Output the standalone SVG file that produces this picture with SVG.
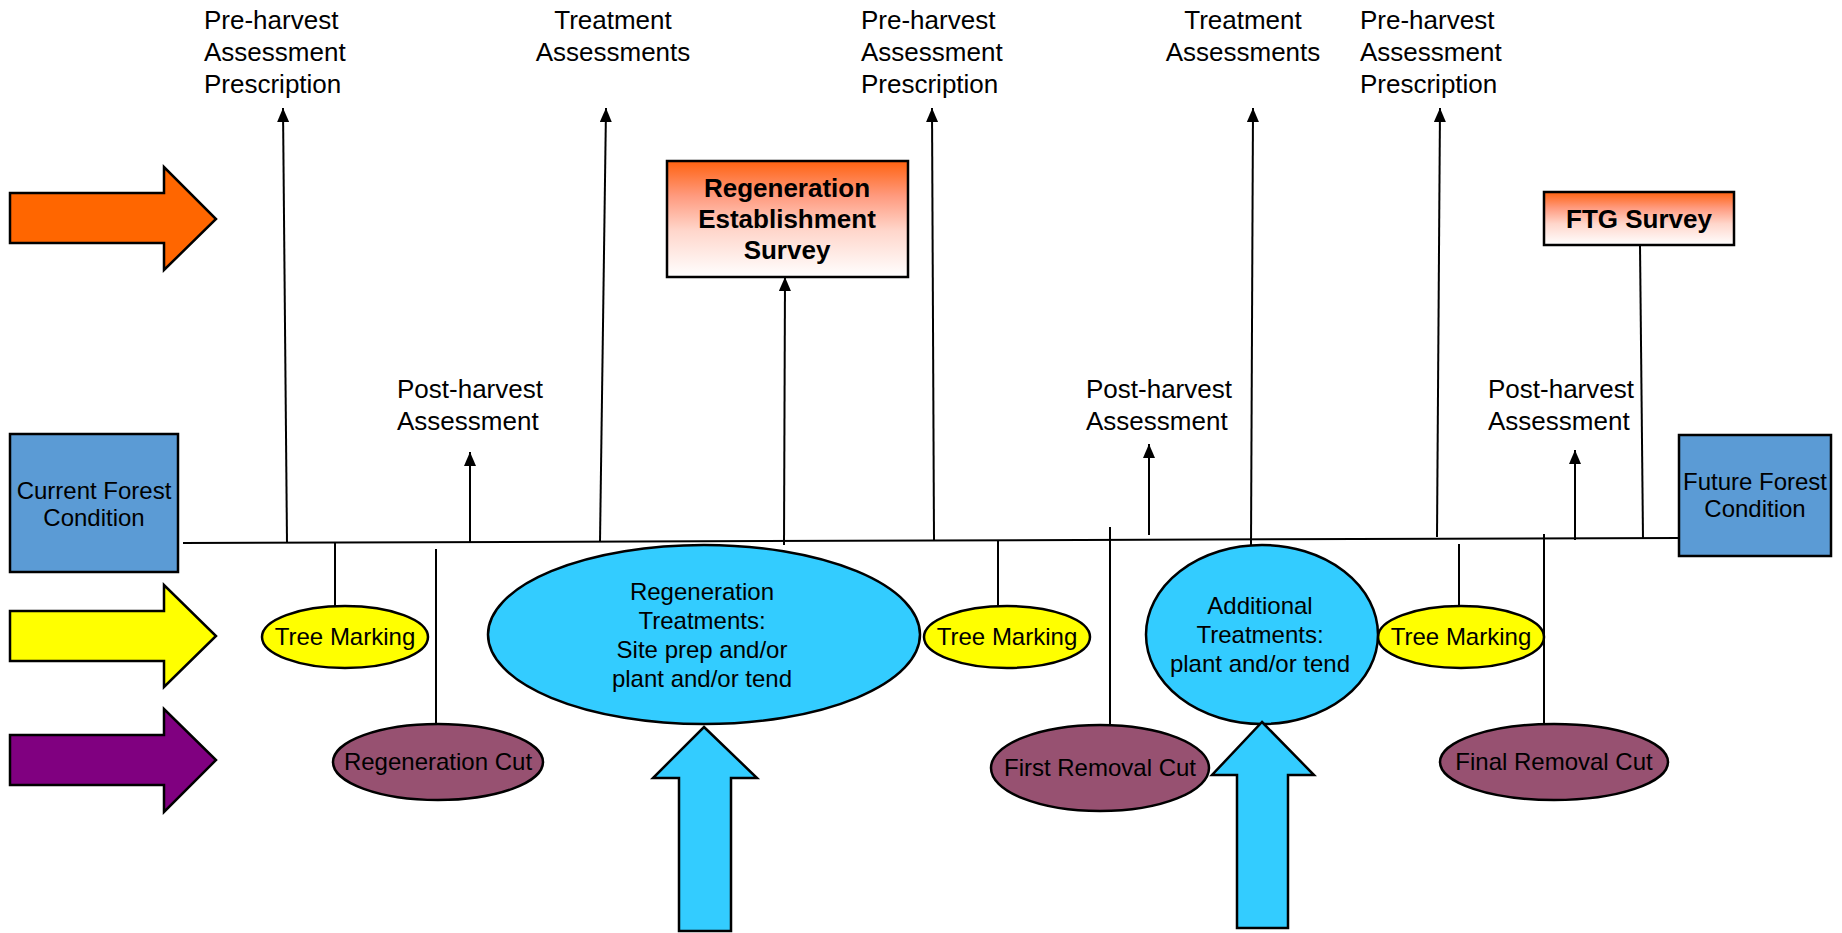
<svg xmlns="http://www.w3.org/2000/svg" width="1842" height="933" viewBox="0 0 1842 933">
<style>
text{font-family:"Liberation Sans",Arial,sans-serif;fill:#000}
.lbl{font-size:26px}
.el{font-size:24px;text-anchor:middle}
.bold{font-size:26px;font-weight:bold;text-anchor:middle}
.ln{stroke:#000;stroke-width:2;fill:none}
.shape{stroke:#000;stroke-width:2.5}
.blue{fill:#5B9BD5}
.sky{fill:#33CCFF}
.yel{fill:#FFFF00}
.mar{fill:#975171}
</style>
<defs>
<marker id="ah" markerUnits="userSpaceOnUse" markerWidth="14" markerHeight="16" refX="14" refY="6" orient="auto">
<path d="M0,0 L14,6 L0,12 Z" fill="#000"/>
</marker>
<linearGradient id="grad" x1="0" y1="0" x2="0" y2="1">
<stop offset="0" stop-color="#FF6210"/>
<stop offset="0.3" stop-color="#FF9A7E"/>
<stop offset="0.6" stop-color="#FFD6CB"/>
<stop offset="1" stop-color="#FFFFFF"/>
</linearGradient>
</defs>
<rect width="1842" height="933" fill="#fff"/>

<!-- legend arrows -->
<g id="legend-orange"><path class="shape" fill="#FF6600" d="M10,193 H164 V167 L216,219 L164,270 V243 H10 Z"/></g>
<g id="legend-yellow"><path class="shape" fill="#FFFF00" d="M10,611 H164 V585 L216,636 L164,687 V661 H10 Z"/></g>
<g id="legend-purple"><path class="shape" fill="#800080" d="M10,735 H164 V709 L216,760 L164,812 V785 H10 Z"/></g>

<!-- connectors -->
<g id="connectors">
<line class="ln" x1="183" y1="543" x2="1680" y2="538"/>
<line class="ln" x1="287" y1="543" x2="283" y2="108" marker-end="url(#ah)"/>
<line class="ln" x1="600" y1="542" x2="606" y2="108" marker-end="url(#ah)"/>
<line class="ln" x1="934" y1="541" x2="932" y2="108" marker-end="url(#ah)"/>
<line class="ln" x1="1251" y1="545" x2="1253" y2="108" marker-end="url(#ah)"/>
<line class="ln" x1="1437" y1="537" x2="1440" y2="108" marker-end="url(#ah)"/>
<line class="ln" x1="470" y1="542" x2="470" y2="452" marker-end="url(#ah)"/>
<line class="ln" x1="1149" y1="535" x2="1149" y2="444" marker-end="url(#ah)"/>
<line class="ln" x1="1575" y1="540" x2="1575" y2="450" marker-end="url(#ah)"/>
<line class="ln" x1="784" y1="545" x2="785" y2="277" marker-end="url(#ah)"/>
<line class="ln" x1="1640" y1="245" x2="1643" y2="539"/>
<line class="ln" x1="335" y1="543" x2="335" y2="606"/>
<line class="ln" x1="998" y1="541" x2="998" y2="606"/>
<line class="ln" x1="1459" y1="544" x2="1459" y2="606"/>
<line class="ln" x1="436" y1="549" x2="436" y2="724"/>
<line class="ln" x1="1110" y1="527" x2="1110" y2="725"/>
<line class="ln" x1="1544" y1="534" x2="1544" y2="724"/>
</g>

<!-- top labels -->
<g id="label-preharvest-1"><text class="lbl" x="204" y="29">Pre-harvest</text><text class="lbl" x="204" y="61">Assessment</text><text class="lbl" x="204" y="93">Prescription</text></g>
<g id="label-treatment-1"><text class="lbl" x="613" y="29" text-anchor="middle">Treatment</text><text class="lbl" x="613" y="61" text-anchor="middle">Assessments</text></g>
<g id="label-preharvest-2"><text class="lbl" x="861" y="29">Pre-harvest</text><text class="lbl" x="861" y="61">Assessment</text><text class="lbl" x="861" y="93">Prescription</text></g>
<g id="label-treatment-2"><text class="lbl" x="1243" y="29" text-anchor="middle">Treatment</text><text class="lbl" x="1243" y="61" text-anchor="middle">Assessments</text></g>
<g id="label-preharvest-3"><text class="lbl" x="1360" y="29">Pre-harvest</text><text class="lbl" x="1360" y="61">Assessment</text><text class="lbl" x="1360" y="93">Prescription</text></g>
<g id="label-postharvest-1"><text class="lbl" x="397" y="398">Post-harvest</text><text class="lbl" x="397" y="430">Assessment</text></g>
<g id="label-postharvest-2"><text class="lbl" x="1086" y="398">Post-harvest</text><text class="lbl" x="1086" y="430">Assessment</text></g>
<g id="label-postharvest-3"><text class="lbl" x="1488" y="398">Post-harvest</text><text class="lbl" x="1488" y="430">Assessment</text></g>

<!-- boxes -->
<g id="current-forest"><rect class="shape blue" x="10" y="434" width="168" height="138"/><text class="el" x="94" y="499">Current Forest</text><text class="el" x="94" y="526">Condition</text></g>
<g id="future-forest"><rect class="shape blue" x="1679" y="435" width="152" height="121"/><text class="el" x="1755" y="490">Future Forest</text><text class="el" x="1755" y="517">Condition</text></g>
<g id="regen-survey"><rect class="shape" fill="url(#grad)" x="667" y="161" width="241" height="116"/><text class="bold" x="787" y="197">Regeneration</text><text class="bold" x="787" y="228">Establishment</text><text class="bold" x="787" y="259">Survey</text></g>
<g id="ftg-survey"><rect class="shape" fill="url(#grad)" x="1544" y="192" width="190" height="53"/><text class="bold" x="1639" y="228">FTG Survey</text></g>

<!-- ellipses -->
<g id="tree-marking-1"><ellipse class="shape yel" cx="345" cy="637" rx="83" ry="31"/><text class="el" x="345" y="645">Tree Marking</text></g>
<g id="tree-marking-2"><ellipse class="shape yel" cx="1007" cy="637" rx="83" ry="31"/><text class="el" x="1007" y="645">Tree Marking</text></g>
<g id="tree-marking-3"><ellipse class="shape yel" cx="1461" cy="637" rx="83" ry="31"/><text class="el" x="1461" y="645">Tree Marking</text></g>
<g id="regen-cut"><ellipse class="shape mar" cx="438" cy="762" rx="105" ry="38"/><text class="el" x="438" y="770">Regeneration Cut</text></g>
<g id="first-removal-cut"><ellipse class="shape mar" cx="1100" cy="768" rx="109" ry="43"/><text class="el" x="1100" y="776">First Removal Cut</text></g>
<g id="final-removal-cut"><ellipse class="shape mar" cx="1554" cy="762" rx="114" ry="38"/><text class="el" x="1554" y="770">Final Removal Cut</text></g>
<g id="regen-treatments"><ellipse class="shape sky" cx="704" cy="634.5" rx="216" ry="89.5"/><text class="el" x="702" y="600">Regeneration</text><text class="el" x="702" y="629">Treatments:</text><text class="el" x="702" y="658">Site prep and/or</text><text class="el" x="702" y="687">plant and/or tend</text></g>
<g id="additional-treatments"><ellipse class="shape sky" cx="1262" cy="634.5" rx="116" ry="89.5"/><text class="el" x="1260" y="614">Additional</text><text class="el" x="1260" y="643">Treatments:</text><text class="el" x="1260" y="672">plant and/or tend</text></g>

<!-- blue up arrows -->
<g id="input-arrow-1"><path class="shape sky" d="M704,727 L757,778 H731 V931 H679 V778 H653 Z"/></g>
<g id="input-arrow-2"><path class="shape sky" d="M1262,722 L1314,775 H1288 V928 H1237 V775 H1212 Z"/></g>
</svg>
